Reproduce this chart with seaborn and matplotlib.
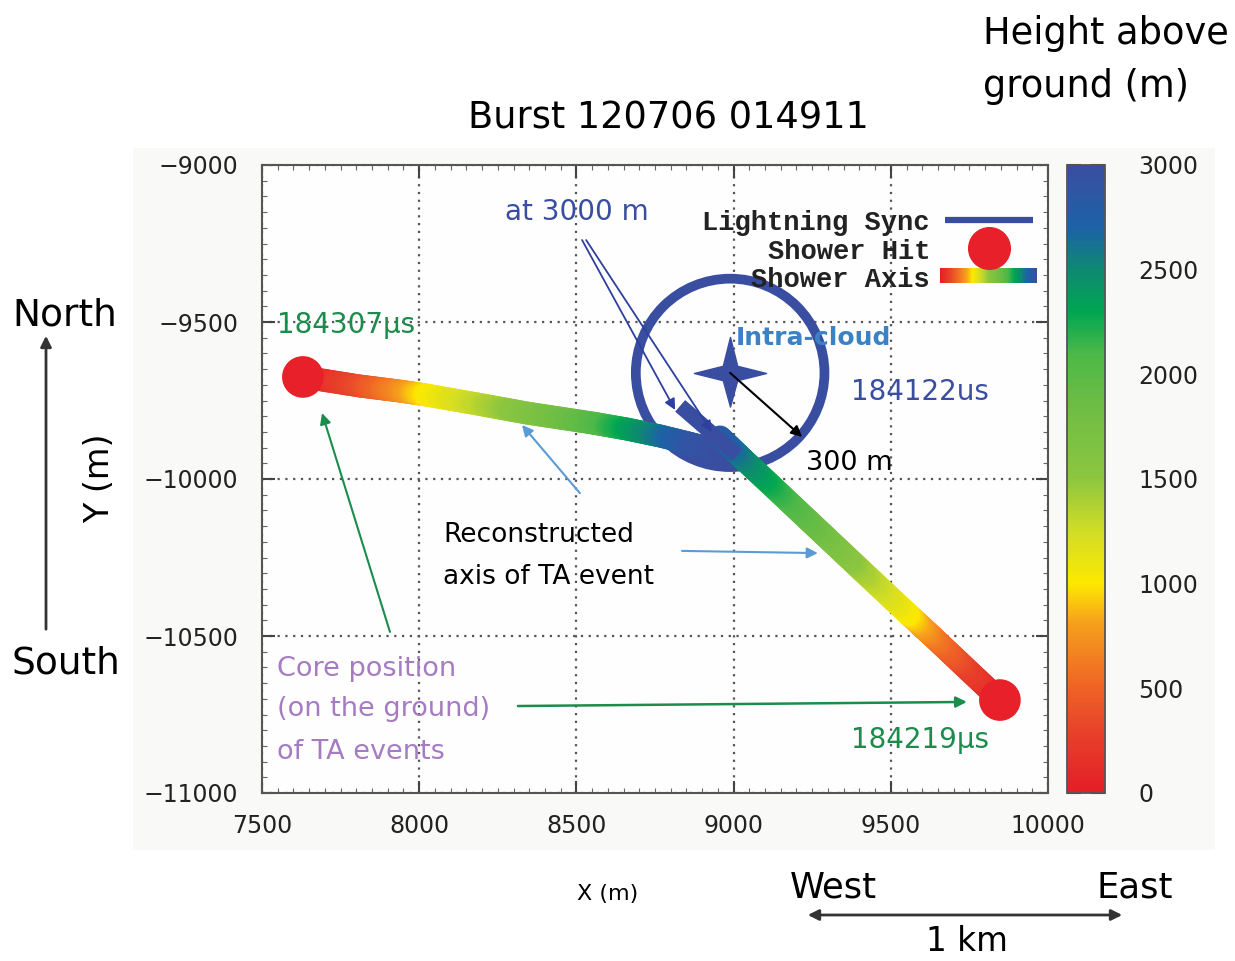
import numpy as np
import pandas as pd
import matplotlib
matplotlib.use("Agg")
import matplotlib.pyplot as plt
import seaborn as sns
from matplotlib.collections import LineCollection
from matplotlib.colors import LinearSegmentedColormap, Normalize
from matplotlib.patches import Circle, Rectangle, FancyArrowPatch
from matplotlib.lines import Line2D
from matplotlib.path import Path
import matplotlib.cm as cm

# ---------------- data ----------------
track1_x = [7630, 7812, 7939, 8025, 8184, 8343, 8553, 8661, 8766, 8871, 8979]
track1_y = [-9675, -9704, -9720, -9733, -9761, -9790, -9822, -9841, -9863, -9889, -9917]
track1_h = [0, 350, 700, 1000, 1300, 1600, 2000, 2300, 2600, 2900, 3000]

track2_x = [9847, 9742, 9634, 9552, 9443, 9338, 9233, 9125, 9030, 8957]
track2_y = [-10704, -10605, -10503, -10427, -10325, -10226, -10127, -10025, -9936, -9866]
track2_h = [0, 250, 600, 1000, 1300, 1600, 1900, 2200, 2500, 2800]

hit_x = [7630, 9847]
hit_y = [-9675, -10704]
hit_label = ["184307\u00b5s", "184219\u00b5s"]

lightning_x = [8989]
lightning_y = [-9662]
lightning_radius = 300
lightning_label = "184122us"
sync_x = [8830, 9011]
sync_y = [-9767, -9924]

x_ticks = [7500, 8000, 8500, 9000, 9500, 10000]
y_ticks = [-11000, -10500, -10000, -9500, -9000]
cbar_ticks = [0, 500, 1000, 1500, 2000, 2500, 3000]

cmap_stops = [0.0, 0.10, 0.167, 0.27, 0.333, 0.42, 0.5, 0.62, 0.70, 0.767, 0.833, 0.90, 1.0]
cmap_colors = ["#e41e26", "#e8432a", "#ef6326", "#f6a01c", "#fde900", "#cfdc27",
               "#8dc63f", "#6cbd45", "#4db848", "#00a651", "#0e8a70", "#1c63a6", "#3a4ea1"]

# ---------------- styling ----------------
sns.set_theme(style="white")
plt.rcParams["font.family"] = ["DejaVu Sans"]

W, H = 1235, 961
def P(px, py):
    return (px / W, 1 - py / H)

BLUE = "#3a4ea1"
RED = "#e8202a"
GREEN = "#1b8c4c"
PURPLE = "#a57cc1"
LBLUE = "#5b9bd5"

cmap = LinearSegmentedColormap.from_list("ta", list(zip(cmap_stops, cmap_colors)))
norm = Normalize(0, 3000)

fig = plt.figure(figsize=(W / 100, H / 100), dpi=100)
fig.patch.set_facecolor("white")
fig.add_artist(Rectangle(P(133, 850), (1215 - 133) / W, (850 - 148) / H,
                         transform=fig.transFigure, facecolor="#f9f9f8",
                         edgecolor="none", zorder=-10))

ax = fig.add_axes([262 / W, 1 - 793 / H, 786 / W, 628 / H])
ax.set_facecolor("#fefefe")
ax.set_xlim(7500, 10000)
ax.set_ylim(-11000, -9000)
ax.set_xticks(x_ticks)
ax.set_yticks(y_ticks)
ax.set_xticks(np.arange(7500, 10001, 50), minor=True)
ax.set_yticks(np.arange(-11000, -8999, 50), minor=True)
ax.grid(True, which="major", linestyle=(0, (1, 2.5)), linewidth=1.6, color="#555555")
ax.tick_params(which="major", direction="in", length=9, width=1.5, color="#444444",
               top=True, right=True, bottom=True, left=True, labelcolor="#222222")
ax.tick_params(which="minor", direction="in", length=3.5, width=0.8, color="#666666",
               top=True, right=True, bottom=True, left=True)
ax.tick_params(axis="y", labelsize=17, pad=17)
ax.tick_params(axis="x", labelsize=17, pad=15)
for s in ax.spines.values():
    s.set_color("#555555")
    s.set_linewidth(1.5)

# lightning circle (300 m)
ax.add_patch(Circle((lightning_x[0], lightning_y[0]), lightning_radius, fill=False,
                    edgecolor=BLUE, linewidth=7, zorder=2))

# shower axes coloured by height
def draw_track(xs, ys, hs, n=14):
    segs, vals = [], []
    for i in range(len(xs) - 1):
        t = np.linspace(0, 1, n + 1)
        sx = xs[i] + (xs[i + 1] - xs[i]) * t
        sy = ys[i] + (ys[i + 1] - ys[i]) * t
        sh = hs[i] + (hs[i + 1] - hs[i]) * t
        for j in range(n):
            segs.append([(sx[j], sy[j]), (sx[j + 1], sy[j + 1])])
            vals.append(0.5 * (sh[j] + sh[j + 1]))
    lc = LineCollection(segs, cmap=cmap, norm=norm, linewidths=16.5, capstyle="round", zorder=3)
    lc.set_array(np.array(vals))
    ax.add_collection(lc)

draw_track(track1_x, track1_y, track1_h)
draw_track(track2_x, track2_y, track2_h)

# lightning sync at 3000 m
sns.lineplot(x=sync_x, y=sync_y, ax=ax, color=BLUE, linewidth=11, zorder=4,
             solid_capstyle="butt", sort=False, legend=False)

star = Path([(0, 1), (0.2, 0.2), (1, 0), (0.2, -0.2), (0, -0.93), (-0.2, -0.2),
             (-1, 0), (-0.2, 0.2), (0, 1)], closed=True)
ax.plot(lightning_x, lightning_y, marker=star, markersize=52, color=BLUE,
        linestyle="none", zorder=5)

# shower hits (core positions)
hits = pd.DataFrame({"x": hit_x, "y": hit_y})
sns.scatterplot(data=hits, x="x", y="y", ax=ax, s=900, color=RED, edgecolor="none",
                zorder=6, legend=False)
ax.set_xlabel("")
ax.set_ylabel("")

# in-plot arrows
def arrow(start, tip, color, lw=1.5, ms=16):
    ax.annotate("", xy=tip, xytext=start,
                arrowprops=dict(arrowstyle="-|>", color=color, lw=lw, mutation_scale=ms,
                                shrinkA=0, shrinkB=0), zorder=7)

arrow((8518, -9239), (8814, -9780), "#2e3f9e", lw=1.3)
arrow((8531, -9239), (8931, -9850), "#2e3f9e", lw=1.3)
arrow((lightning_x[0], lightning_y[0]), (9218, -9866), "black", lw=1.5)
arrow((8511, -10045), (8327, -9828), LBLUE, lw=1.5)
arrow((8836, -10229), (9268, -10236), LBLUE, lw=1.5)
arrow((7907, -10487), (7691, -9790), GREEN, lw=1.5)
arrow((8314, -10723), (9742, -10710), GREEN, lw=1.8)

# ---------------- texts ----------------
def T(px, py, s, size, color="black", ha="left", va="baseline", **kw):
    fig.text(*P(px, py), s, fontsize=size, color=color, ha=ha, va=va, **kw)

T(668, 128, "Burst 120706 014911", 26.5, ha="center")
T(983, 44, "Height above", 26.5)
T(983, 97, "ground (m)", 26.5)
T(12, 325, "North", 27)
T(12, 673, "South", 27)
T(100, 478, "Y (m)", 24, ha="center", va="center", rotation=90)
T(608, 900, "X (m)", 16, ha="center")
T(790, 897, "West", 25.5)
T(1097, 897, "East", 25.5)
T(967, 951, "1 km", 23.5, ha="center")

T(505, 220, "at 3000 m", 20, color=BLUE)
T(736, 345, "Intra-cloud", 18, color="#3b82c4", fontweight="bold")
T(851, 400, lightning_label, 20, color=BLUE)
T(806, 470, "300 m", 19.5)
T(277, 333, hit_label[0], 20, color=GREEN)
T(851, 748, hit_label[1], 20, color=GREEN)
T(443, 542, "Reconstructed", 19)
T(443, 584, "axis of TA event", 19)
T(277, 676, "Core position", 19.5, color=PURPLE)
T(277, 716, "(on the ground)", 19.5, color=PURPLE)
T(277, 759, "of TA events", 19.5, color=PURPLE)

# legend (manual, gnuplot style)
LF = dict(family=["Liberation Mono", "DejaVu Sans Mono"], fontweight="bold")
T(930, 230, "Lightning Sync", 19.5, color="#222222", ha="right", **LF)
T(930, 259, "Shower Hit", 19.5, color="#222222", ha="right", **LF)
T(930, 287, "Shower Axis", 19.5, color="#222222", ha="right", **LF)
fig.add_artist(Line2D([945 / W, 1033 / W], [1 - 220 / H] * 2, transform=fig.transFigure,
                      color=BLUE, lw=4.5, solid_capstyle="butt"))
lax = fig.add_axes([940 / W, 1 - 283 / H, 97 / W, 15 / H])
lax.imshow(np.linspace(0, 1, 256)[None, :], aspect="auto", cmap=cmap)
lax.axis("off")
fig.add_artist(Line2D([989 / W], [1 - 248 / H], transform=fig.transFigure, marker="o",
                      markersize=30, color=RED, linestyle="none", zorder=10))

# north/south and west/east arrows
fig.add_artist(FancyArrowPatch(P(46, 632), P(46, 333), transform=fig.transFigure,
                               arrowstyle="-|>", mutation_scale=16, lw=2, color="#333333"))
fig.add_artist(FancyArrowPatch(P(805, 915), P(1125, 915), transform=fig.transFigure,
                               arrowstyle="<|-|>", mutation_scale=16, lw=2, color="#333333"))

# colour bar
cax = fig.add_axes([1067 / W, 1 - 793 / H, 38 / W, 628 / H])
sm = cm.ScalarMappable(norm=norm, cmap=cmap)
cb = fig.colorbar(sm, cax=cax, ticks=cbar_ticks)
cb.outline.set_edgecolor("#555555")
cb.outline.set_linewidth(1.3)
cax.tick_params(direction="in", length=10, width=1.5, color="#333333", left=True,
                right=True, labelsize=17, pad=24, labelcolor="#222222")

fig.savefig("out.png", dpi=100)
